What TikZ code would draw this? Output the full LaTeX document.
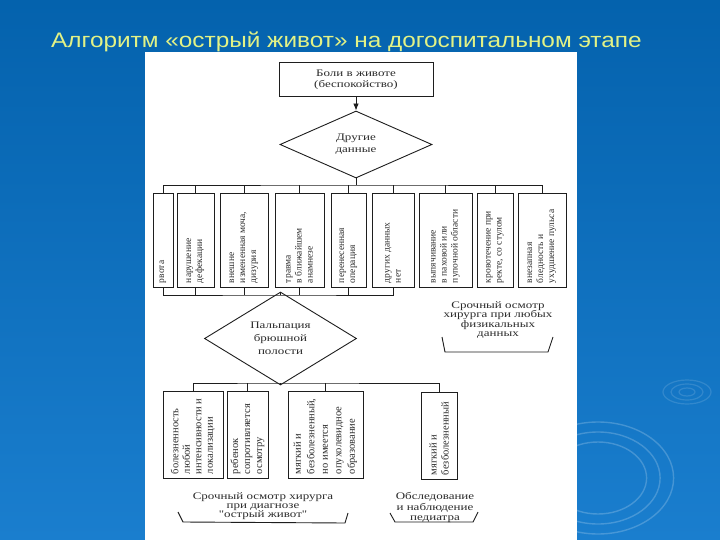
\documentclass[tikz,border=0pt]{standalone}
\usepackage{fontspec}
\setmainfont{Liberation Serif}
\newfontfamily\slidefont[FakeStretch=1.16]{Liberation Sans}
\newfontfamily\scanfont[FakeStretch=1.3]{Liberation Serif}
\usetikzlibrary{positioning,arrows.meta,shapes.geometric}
\definecolor{slidetop}{HTML}{0462AD}
\definecolor{slidebot}{HTML}{1A7ECE}
\definecolor{slidetitle}{HTML}{E2F286}
\definecolor{scanink}{HTML}{2B2B2B}
\definecolor{scanline}{HTML}{1E1E1E}
\newcommand{\vlbl}[2]{\rotatebox{90}{\parbox{#1}{\raggedright #2}}}

\begin{document}
\begin{tikzpicture}[x=1pt, y=-1pt, text=scanink,
  font={\scanfont\fontsize{10}{10.5}\selectfont},
  topbox/.style={draw=scanline, line width=1pt, minimum width=154pt, minimum height=34pt, inner sep=0pt, align=center},
  choice/.style={draw=scanline, line width=0.9pt, diamond, minimum width=152pt, minimum height=67pt, inner sep=0pt, align=center},
  vbox/.style={draw=scanline, line width=1pt, inner sep=0pt, font={\rmfamily\fontsize{9.5}{11}\selectfont}},
  lowbox/.style={vbox, minimum height=87pt, font={\rmfamily\fontsize{10.5}{12}\selectfont}},
  note/.style={align=center, inner sep=0pt},
  bracket/.style={draw=scanline, line width=0.9pt},
  link/.style={draw=scanline, line width=0.7pt},
  arr/.style={-{Latex[length=7pt,width=5.5pt]}, draw=scanline, line width=0.8pt}]
% slide background
\shade[top color=slidetop, bottom color=slidebot] (0,0) rectangle (720,540);
\begin{scope}[draw=white, opacity=0.13, line width=1.2pt]
  \foreach \r in {4,8,12} \draw (687,392) ellipse ({\r*2} and {\r});
\end{scope}
\begin{scope}[draw=white, opacity=0.2, line width=1.4pt]
  \foreach \r in {36,46,56} \draw (598,478) ellipse ({\r*1.35} and {\r});
\end{scope}
\node[anchor=base west, inner sep=0pt, text=slidetitle, font={\slidefont\fontsize{21}{25}\selectfont}] (title) at (51,47.5)
  {Алгоритм «острый живот» на догоспитальном этапе};
% scanned page
\fill[white] (145,52) rectangle (577,540);

\node[topbox] (pain) at (356,80) {Боли в животе\\(беспокойство)};
\node[choice, font={\scanfont\fontsize{10}{12}\selectfont}] (other) at (356,144.5) {Другие\\данные};
\draw[arr] (pain) -- (other);

% first row of findings
\node[vbox, minimum width=20pt, minimum height=93pt] (b1) at (163,240.5) {\vlbl{85pt}{рвота}};
\node[vbox, minimum width=37pt, minimum height=93pt] (b2) at (195.5,240.5) {\vlbl{85pt}{нарушение\\дефекации}};
\node[vbox, minimum width=48pt, minimum height=93pt] (b3) at (244,240.5) {\vlbl{85pt}{внешне\\измененная моча,\\дизурия}};
\node[vbox, minimum width=49pt, minimum height=93pt] (b4) at (299.5,240.5) {\vlbl{85pt}{травма\\в ближайшем\\анамнезе}};
\node[vbox, minimum width=35pt, minimum height=93pt] (b5) at (348.5,240.5) {\vlbl{85pt}{перенесенная\\операция}};
\node[vbox, minimum width=42pt, minimum height=93pt] (b6) at (393,240.5) {\vlbl{85pt}{других данных\\нет}};
\node[vbox, minimum width=53pt, minimum height=93pt] (b7) at (445.5,240.5) {\vlbl{85pt}{выпячивание\\в паховой или\\пупочной области}};
\node[vbox, minimum width=36pt, minimum height=93pt] (b8) at (495,240.5) {\vlbl{85pt}{кровотечение при\\ректе, со стулом}};
\node[vbox, minimum width=48pt, minimum height=93pt] (b9) at (542,240.5) {\vlbl{85pt}{внезапная\\бледность и\\ухудшение пульса}};

\coordinate (bus1) at (356,185);
\draw[link] (other.south) -- (bus1);
\draw[link] (b1.north) |- (bus1) -| (b9.north);
\foreach \i in {2,...,8} \draw[link] (b\i.north) -- (b\i.north |- bus1);

\node[choice, font={\scanfont\fontsize{10}{13}\selectfont}] (palp) at (280.5,338.5) {Пальпация\\брюшной\\полости};
\coordinate (bus2) at (280.5,295);
\draw[link] (b1.south) |- (bus2) -| (b6.south);
\foreach \i in {2,...,5} \draw[link] (b\i.south) -- (b\i.south |- bus2);
\draw[link] (bus2) -- (palp.north);

\node[note, font={\scanfont\fontsize{10}{9.5}\selectfont}] (anydata) at (498,320) {Срочный осмотр\\хирурга при любых\\физикальных\\данных};
\draw[bracket] (442,337) -- (445,352) -- (548,352) -- (553,337);

% palpation findings
\node[lowbox, minimum width=60pt, font={\rmfamily\fontsize{10.5}{11.5}\selectfont}] (c1) at (193,434.5) {\vlbl{79pt}{болезненность\\любой\\интенсивности и\\локализации}};
\node[lowbox, minimum width=41pt] (c2) at (247.5,434.5) {\vlbl{79pt}{ребенок\\сопротивляется\\осмотру}};
\node[lowbox, minimum width=75pt, font={\rmfamily\fontsize{10.5}{13.5}\selectfont}] (c3) at (325.5,434.5) {\vlbl{79pt}{мягкий и\\безболезненный,\\но имеется\\опухолевидное\\образование}};
\node[lowbox, minimum width=36pt] (c4) at (439,435.5) {\vlbl{79pt}{мягкий и\\безболезненный}};

\coordinate (bus3) at (280.5,383);
\draw[link] (palp.south) -- (bus3);
\draw[link] (c1.north) |- (bus3) -| (c4.north);
\foreach \i in {2,3} \draw[link] (c\i.north) -- (c\i.north |- bus3);

\node[note, font={\scanfont\fontsize{10}{9}\selectfont}] (surgeon) at (263,506) {Срочный осмотр хирурга\\при диагнозе\\"острый живот"};
\draw[bracket] (178,512) -- (183,522) -- (345,523) -- (348,513);
\node[note, font={\scanfont\fontsize{10}{10.5}\selectfont}] (pediatr) at (435,507.5) {Обследование\\и наблюдение\\педиатра};
\draw[bracket] (390,513) -- (395,522) -- (473,522) -- (478,512);
\end{tikzpicture}
\end{document}
